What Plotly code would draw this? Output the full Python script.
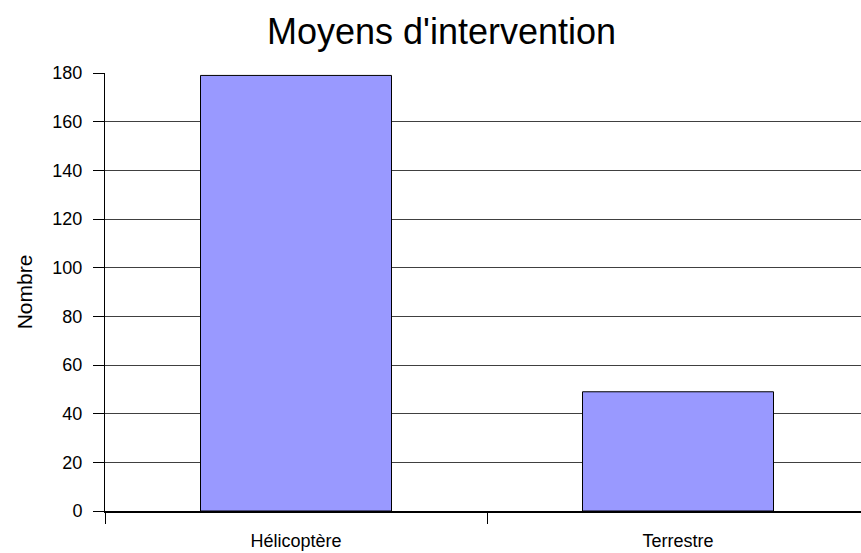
import plotly.graph_objects as go

categories = ["Hélicoptère", "Terrestre"]
values = [179, 49]
y_ticks = [0, 20, 40, 60, 80, 100, 120, 140, 160, 180]

W, H = 861, 553

fig = go.Figure(go.Bar(
    x=categories, y=values,
    marker=dict(color="#9999FF", line=dict(color="#000000", width=1)),
    width=0.5,
))

fig.update_layout(
    width=W, height=H,
    margin=dict(l=105, r=0, t=73, b=42),
    paper_bgcolor="white", plot_bgcolor="white",
    font=dict(family="Liberation Sans, Arial, sans-serif", color="black", size=18),
    title=dict(text="Moyens d'intervention", x=441.5 / W, xanchor="center",
               y=1 - 31 / H, yanchor="middle", yref="container",
               font=dict(size=36, color="black")),
    showlegend=False,
)
fig.update_xaxes(
    range=[-0.5, -0.5 + 756 / 382], showgrid=False, tickson="boundaries",
    ticks="outside", ticklen=11, tickcolor="black", tickwidth=1,
    showline=True, linecolor="black", linewidth=2,
    ticklabelstandoff=12, tickfont=dict(size=18),
)
fig.update_yaxes(
    range=[0, 180], tickvals=y_ticks, showgrid=True, gridcolor="#404040", gridwidth=1,
    ticks="outside", ticklen=11, tickcolor="black",
    showline=True, linecolor="black", linewidth=1,
    zeroline=False, tickfont=dict(size=18), ticklabelstandoff=7,
    title=dict(text="Nombre", font=dict(size=21), standoff=14),
)

fig.write_html(
    "out.html",
    config={"displayModeBar": False},
    post_script="document.body.style.margin='0';document.body.style.overflow='hidden';",
)
